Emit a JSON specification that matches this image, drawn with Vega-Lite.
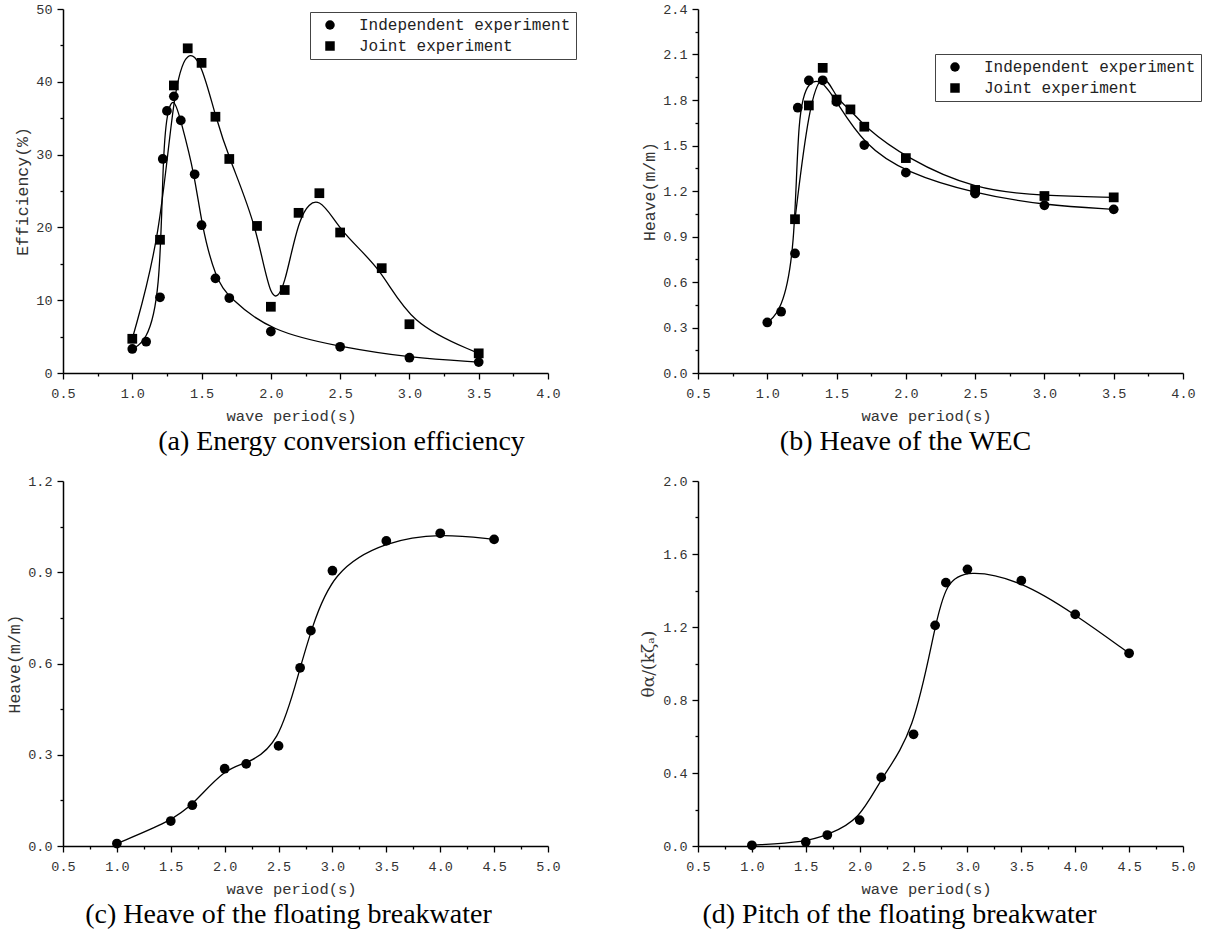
{
  "$schema": "https://vega.github.io/schema/vega-lite/v6.json",
  "padding": {"left": 6, "top": 2, "right": 0, "bottom": 0},
  "background": "white",
  "config": {
    "view": {"stroke": null},
    "axis": {
      "grid": false,
      "domainColor": "black",
      "domainWidth": 1.5,
      "tickColor": "black",
      "tickWidth": 1.3,
      "labelFont": "Liberation Mono",
      "labelFontSize": 13.5,
      "labelColor": "#333333",
      "titleFont": "Liberation Mono",
      "titleFontSize": 15.5,
      "titleFontWeight": "normal",
      "titleColor": "#333333"
    },
    "axisX": {"labelPadding": 7, "titlePadding": 9, "labelFlush": false, "titleX": 228},
    "axisY": {"labelPadding": 5, "titlePadding": 5, "titleFontSize": 16.5},
    "legend": {
      "labelFont": "Liberation Mono",
      "labelFontSize": 16,
      "labelColor": "#222222",
      "labelLimit": 0,
      "strokeColor": "#444444",
      "padding": 5,
      "symbolSize": 90,
      "symbolOffset": 7,
      "labelOffset": 21,
      "rowPadding": 5,
      "symbolType": "circle"
    },
    "title": {
      "font": "Liberation Serif",
      "fontSize": 28,
      "fontWeight": "normal",
      "color": "black",
      "orient": "bottom",
      "anchor": "middle",
      "offset": 4
    }
  },
  "datasets": {
    "a": [
      {"T": 1.0, "V": 3.3, "s": "Independent experiment"},
      {"T": 1.1, "V": 4.3, "s": "Independent experiment"},
      {"T": 1.2, "V": 10.4, "s": "Independent experiment"},
      {"T": 1.22, "V": 29.4, "s": "Independent experiment"},
      {"T": 1.25, "V": 36.0, "s": "Independent experiment"},
      {"T": 1.3, "V": 38.0, "s": "Independent experiment"},
      {"T": 1.35, "V": 34.7, "s": "Independent experiment"},
      {"T": 1.45, "V": 27.3, "s": "Independent experiment"},
      {"T": 1.5, "V": 20.3, "s": "Independent experiment"},
      {"T": 1.6, "V": 13.0, "s": "Independent experiment"},
      {"T": 1.7, "V": 10.3, "s": "Independent experiment"},
      {"T": 2.0, "V": 5.7, "s": "Independent experiment"},
      {"T": 2.5, "V": 3.6, "s": "Independent experiment"},
      {"T": 3.0, "V": 2.1, "s": "Independent experiment"},
      {"T": 3.5, "V": 1.5, "s": "Independent experiment"},
      {"T": 1.0, "V": 4.7, "s": "Joint experiment"},
      {"T": 1.2, "V": 18.3, "s": "Joint experiment"},
      {"T": 1.3, "V": 39.5, "s": "Joint experiment"},
      {"T": 1.4, "V": 44.6, "s": "Joint experiment"},
      {"T": 1.5, "V": 42.6, "s": "Joint experiment"},
      {"T": 1.6, "V": 35.2, "s": "Joint experiment"},
      {"T": 1.7, "V": 29.4, "s": "Joint experiment"},
      {"T": 1.9, "V": 20.2, "s": "Joint experiment"},
      {"T": 2.0, "V": 9.1, "s": "Joint experiment"},
      {"T": 2.1, "V": 11.4, "s": "Joint experiment"},
      {"T": 2.2, "V": 22.0, "s": "Joint experiment"},
      {"T": 2.35, "V": 24.7, "s": "Joint experiment"},
      {"T": 2.5, "V": 19.3, "s": "Joint experiment"},
      {"T": 2.8, "V": 14.4, "s": "Joint experiment"},
      {"T": 3.0, "V": 6.7, "s": "Joint experiment"},
      {"T": 3.5, "V": 2.7, "s": "Joint experiment"}
    ],
    "b": [
      {"T": 1.0, "V": 0.333, "s": "Independent experiment"},
      {"T": 1.1, "V": 0.404, "s": "Independent experiment"},
      {"T": 1.2, "V": 0.788, "s": "Independent experiment"},
      {"T": 1.22, "V": 1.749, "s": "Independent experiment"},
      {"T": 1.3, "V": 1.929, "s": "Independent experiment"},
      {"T": 1.4, "V": 1.93, "s": "Independent experiment"},
      {"T": 1.5, "V": 1.788, "s": "Independent experiment"},
      {"T": 1.7, "V": 1.503, "s": "Independent experiment"},
      {"T": 2.0, "V": 1.321, "s": "Independent experiment"},
      {"T": 2.5, "V": 1.183, "s": "Independent experiment"},
      {"T": 3.0, "V": 1.106, "s": "Independent experiment"},
      {"T": 3.5, "V": 1.079, "s": "Independent experiment"},
      {"T": 1.2, "V": 1.014, "s": "Joint experiment"},
      {"T": 1.3, "V": 1.764, "s": "Joint experiment"},
      {"T": 1.4, "V": 2.012, "s": "Joint experiment"},
      {"T": 1.5, "V": 1.803, "s": "Joint experiment"},
      {"T": 1.6, "V": 1.738, "s": "Joint experiment"},
      {"T": 1.7, "V": 1.624, "s": "Joint experiment"},
      {"T": 2.0, "V": 1.417, "s": "Joint experiment"},
      {"T": 2.5, "V": 1.207, "s": "Joint experiment"},
      {"T": 3.0, "V": 1.167, "s": "Joint experiment"},
      {"T": 3.5, "V": 1.158, "s": "Joint experiment"}
    ],
    "c": [
      {"T": 1.0, "V": 0.008},
      {"T": 1.5, "V": 0.082},
      {"T": 1.7, "V": 0.134},
      {"T": 2.0, "V": 0.254},
      {"T": 2.2, "V": 0.27},
      {"T": 2.5, "V": 0.329},
      {"T": 2.7, "V": 0.586},
      {"T": 2.8, "V": 0.708},
      {"T": 3.0, "V": 0.905},
      {"T": 3.5, "V": 1.003},
      {"T": 4.0, "V": 1.028},
      {"T": 4.5, "V": 1.008}
    ],
    "d": [
      {"T": 1.0, "V": 0.004},
      {"T": 1.5, "V": 0.022},
      {"T": 1.7, "V": 0.06},
      {"T": 2.0, "V": 0.142},
      {"T": 2.2, "V": 0.376},
      {"T": 2.5, "V": 0.612},
      {"T": 2.7, "V": 1.209},
      {"T": 2.8, "V": 1.443},
      {"T": 3.0, "V": 1.516},
      {"T": 3.5, "V": 1.454},
      {"T": 4.0, "V": 1.269},
      {"T": 4.5, "V": 1.056}
    ]
  },
  "columns": 2,
  "bounds": "flush",
  "spacing": {"row": 108, "column": 150},
  "resolve": {"scale": {"shape": "independent"}, "legend": {"shape": "independent"}},
  "concat": [
    {
      "width": 485,
      "height": 364,
      "data": {"name": "a"},
      "title": {"text": "(a) Energy conversion efficiency", "dx": 36},
      "encoding": {
        "x": {
          "field": "T", "type": "quantitative",
          "scale": {"domain": [0.5, 4.0], "nice": false, "zero": false},
          "axis": {
            "title": "wave period(s)",
            "values": [0.5, 0.75, 1.0, 1.25, 1.5, 1.75, 2.0, 2.25, 2.5, 2.75, 3.0, 3.25, 3.5, 3.75, 4.0],
            "labelExpr": "abs(datum.value*2 - round(datum.value*2)) < 0.01 ? format(datum.value, '.1f') : ''",
            "tickSize": {"condition": {"test": "abs(datum.value*2 - round(datum.value*2)) < 0.01", "value": 6}, "value": 3}
          }
        },
        "y": {
          "field": "V", "type": "quantitative",
          "scale": {"domain": [0, 50], "nice": false},
          "axis": {
            "title": "Efficiency(%)",
            "values": [0, 5, 10, 15, 20, 25, 30, 35, 40, 45, 50],
            "labelExpr": "datum.value % 10 == 0 ? format(datum.value, 'd') : ''",
            "tickSize": {"condition": {"test": "datum.value % 10 == 0", "value": 6}, "value": 3}
          }
        }
      },
      "layer": [
        {
          "mark": {"type": "line", "interpolate": "basis", "color": "black", "strokeWidth": 1.3},
          "encoding": {"detail": {"field": "s"}}
        },
        {
          "mark": {"type": "point", "filled": true, "color": "black", "opacity": 1, "size": 95},
          "encoding": {
            "shape": {
              "field": "s", "type": "nominal",
              "scale": {"domain": ["Independent experiment", "Joint experiment"], "range": ["circle", "square"]},
              "legend": {"title": null, "orient": "none", "legendX": 247, "legendY": 3}
            }
          }
        }
      ]
    },
    {
      "width": 485,
      "height": 364,
      "data": {"name": "b"},
      "title": {"text": "(b) Heave of the WEC", "dx": -35},
      "encoding": {
        "x": {
          "field": "T", "type": "quantitative",
          "scale": {"domain": [0.5, 4.0], "nice": false, "zero": false},
          "axis": {
            "title": "wave period(s)",
            "values": [0.5, 0.75, 1.0, 1.25, 1.5, 1.75, 2.0, 2.25, 2.5, 2.75, 3.0, 3.25, 3.5, 3.75, 4.0],
            "labelExpr": "abs(datum.value*2 - round(datum.value*2)) < 0.01 ? format(datum.value, '.1f') : ''",
            "tickSize": {"condition": {"test": "abs(datum.value*2 - round(datum.value*2)) < 0.01", "value": 6}, "value": 3}
          }
        },
        "y": {
          "field": "V", "type": "quantitative",
          "scale": {"domain": [0, 2.4], "nice": false},
          "axis": {
            "title": "Heave(m/m)",
            "values": [0, 0.15, 0.3, 0.45, 0.6, 0.75, 0.9, 1.05, 1.2, 1.35, 1.5, 1.65, 1.8, 1.95, 2.1, 2.25, 2.4],
            "labelExpr": "abs(datum.value/0.3 - round(datum.value/0.3)) < 0.01 ? format(datum.value, '.1f') : ''",
            "tickSize": {"condition": {"test": "abs(datum.value/0.3 - round(datum.value/0.3)) < 0.01", "value": 6}, "value": 3}
          }
        }
      },
      "layer": [
        {
          "mark": {"type": "line", "interpolate": "basis", "color": "black", "strokeWidth": 1.3},
          "encoding": {"detail": {"field": "s"}}
        },
        {
          "mark": {"type": "point", "filled": true, "color": "black", "opacity": 1, "size": 95},
          "encoding": {
            "shape": {
              "field": "s", "type": "nominal",
              "scale": {"domain": ["Independent experiment", "Joint experiment"], "range": ["circle", "square"]},
              "legend": {"title": null, "orient": "none", "legendX": 237, "legendY": 45}
            }
          }
        }
      ]
    },
    {
      "width": 485,
      "height": 365,
      "data": {"name": "c"},
      "title": {"text": "(c) Heave of the floating breakwater", "dx": -17},
      "encoding": {
        "x": {
          "field": "T", "type": "quantitative",
          "scale": {"domain": [0.5, 5.0], "nice": false, "zero": false},
          "axis": {
            "title": "wave period(s)",
            "values": [0.5, 0.75, 1.0, 1.25, 1.5, 1.75, 2.0, 2.25, 2.5, 2.75, 3.0, 3.25, 3.5, 3.75, 4.0, 4.25, 4.5, 4.75, 5.0],
            "labelExpr": "abs(datum.value*2 - round(datum.value*2)) < 0.01 ? format(datum.value, '.1f') : ''",
            "tickSize": {"condition": {"test": "abs(datum.value*2 - round(datum.value*2)) < 0.01", "value": 6}, "value": 3}
          }
        },
        "y": {
          "field": "V", "type": "quantitative",
          "scale": {"domain": [0, 1.2], "nice": false},
          "axis": {
            "title": "Heave(m/m)",
            "values": [0, 0.15, 0.3, 0.45, 0.6, 0.75, 0.9, 1.05, 1.2],
            "labelExpr": "abs(datum.value/0.3 - round(datum.value/0.3)) < 0.01 ? format(datum.value, '.1f') : ''",
            "tickSize": {"condition": {"test": "abs(datum.value/0.3 - round(datum.value/0.3)) < 0.01", "value": 6}, "value": 3}
          }
        }
      },
      "layer": [
        {
          "mark": {"type": "line", "interpolate": "basis", "color": "black", "strokeWidth": 1.3},
          "encoding": {}
        },
        {
          "mark": {"type": "point", "filled": true, "color": "black", "opacity": 1, "size": 95, "shape": "circle"},
          "encoding": {}
        }
      ]
    },
    {
      "width": 485,
      "height": 365,
      "data": {"name": "d"},
      "title": {"text": "(d) Pitch of the floating breakwater", "dx": -41},
      "encoding": {
        "x": {
          "field": "T", "type": "quantitative",
          "scale": {"domain": [0.5, 5.0], "nice": false, "zero": false},
          "axis": {
            "title": "wave period(s)",
            "values": [0.5, 0.75, 1.0, 1.25, 1.5, 1.75, 2.0, 2.25, 2.5, 2.75, 3.0, 3.25, 3.5, 3.75, 4.0, 4.25, 4.5, 4.75, 5.0],
            "labelExpr": "abs(datum.value*2 - round(datum.value*2)) < 0.01 ? format(datum.value, '.1f') : ''",
            "tickSize": {"condition": {"test": "abs(datum.value*2 - round(datum.value*2)) < 0.01", "value": 6}, "value": 3}
          }
        },
        "y": {
          "field": "V", "type": "quantitative",
          "scale": {"domain": [0, 2.0], "nice": false},
          "axis": {
            "title": "θα/(kζₐ)",
            "titleFont": "DejaVu Serif",
            "titleFontSize": 17,
            "values": [0, 0.2, 0.4, 0.6, 0.8, 1.0, 1.2, 1.4, 1.6, 1.8, 2.0],
            "labelExpr": "abs(datum.value/0.4 - round(datum.value/0.4)) < 0.01 ? format(datum.value, '.1f') : ''",
            "tickSize": {"condition": {"test": "abs(datum.value/0.4 - round(datum.value/0.4)) < 0.01", "value": 6}, "value": 3}
          }
        }
      },
      "layer": [
        {
          "mark": {"type": "line", "interpolate": "basis", "color": "black", "strokeWidth": 1.3},
          "encoding": {}
        },
        {
          "mark": {"type": "point", "filled": true, "color": "black", "opacity": 1, "size": 95, "shape": "circle"},
          "encoding": {}
        }
      ]
    }
  ]
}
